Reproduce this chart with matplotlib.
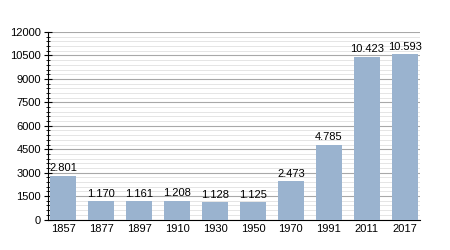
import matplotlib
matplotlib.use("Agg")
import matplotlib.pyplot as plt
from matplotlib.ticker import MultipleLocator

# population by census year
years = ['1857', '1877', '1897', '1910', '1930', '1950', '1970', '1991', '2011', '2017']
population = [2801, 1170, 1161, 1208, 1128, 1125, 2473, 4785, 10423, 10593]
labels = ['2.801', '1.170', '1.161', '1.208', '1.128', '1.125', '2.473', '4.785', '10.423', '10.593']

plt.rcParams['font.family'] = ['Liberation Sans', 'DejaVu Sans']

fig = plt.figure(figsize=(4.5, 2.5), dpi=100)
ax = fig.add_axes([0.107, 0.122, 0.826, 0.750])

x = range(len(years))
ax.bar(x, population, width=0.684, color='#9ab3cf', zorder=3)
for i, v in enumerate(population):
    ax.text(i, v + 150, labels[i], ha='center', va='bottom', fontsize=8, zorder=4)

ax.set_xlim(-0.4, len(years) - 0.6)
ax.set_ylim(0, 12000)
ax.set_xticks(list(x))
ax.set_xticklabels(years)
ax.yaxis.set_major_locator(MultipleLocator(1500))
ax.yaxis.set_minor_locator(MultipleLocator(300))
ax.grid(axis='y', which='major', color='#a8a8a8', linewidth=0.8, zorder=0)
ax.grid(axis='y', which='minor', color='#e0e0e0', linewidth=0.6, zorder=0)

for s in ['top', 'right']:
    ax.spines[s].set_visible(False)
ax.spines['left'].set_linewidth(0.8)
ax.spines['bottom'].set_linewidth(0.8)
ax.tick_params(axis='x', length=0, labelsize=8, pad=3)
ax.tick_params(axis='y', which='major', direction='inout', length=6, width=0.8, labelsize=8, pad=2)
ax.tick_params(axis='y', which='minor', direction='inout', length=3.5, width=0.6)

fig.savefig('out.png', dpi=100)
